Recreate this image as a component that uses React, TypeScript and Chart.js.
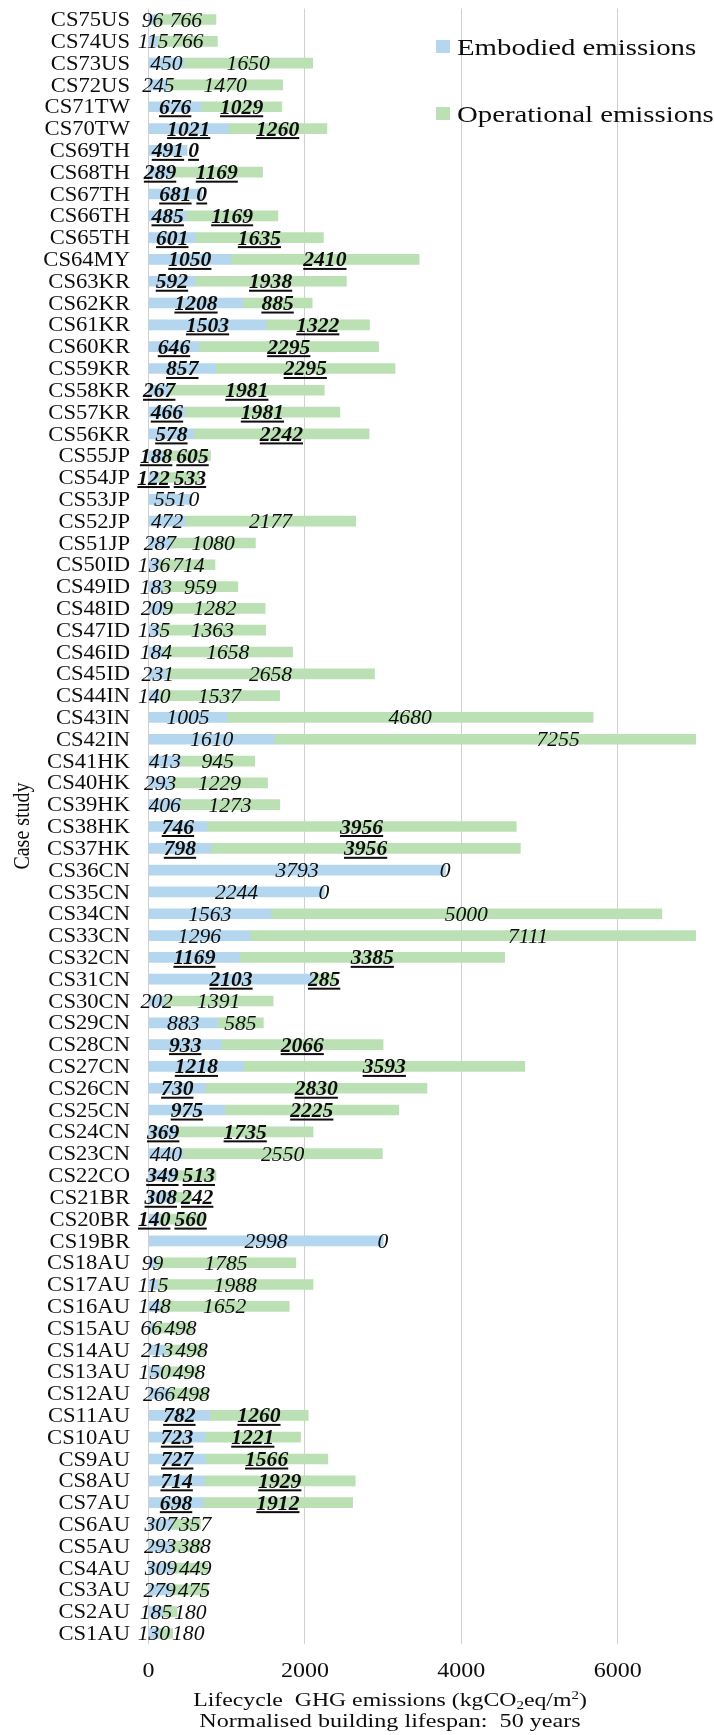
import React, { useEffect, useRef } from 'react';
import { Chart, registerables } from 'chart.js';

Chart.register(...registerables);

// ---------- data (bottom to top: CS1AU ... CS75US) ----------
const categories = [
  'CS1AU', 'CS2AU', 'CS3AU', 'CS4AU', 'CS5AU', 'CS6AU', 'CS7AU', 'CS8AU', 'CS9AU', 'CS10AU',
  'CS11AU', 'CS12AU', 'CS13AU', 'CS14AU', 'CS15AU', 'CS16AU', 'CS17AU', 'CS18AU', 'CS19BR', 'CS20BR',
  'CS21BR', 'CS22CO', 'CS23CN', 'CS24CN', 'CS25CN', 'CS26CN', 'CS27CN', 'CS28CN', 'CS29CN', 'CS30CN',
  'CS31CN', 'CS32CN', 'CS33CN', 'CS34CN', 'CS35CN', 'CS36CN', 'CS37HK', 'CS38HK', 'CS39HK', 'CS40HK',
  'CS41HK', 'CS42IN', 'CS43IN', 'CS44IN', 'CS45ID', 'CS46ID', 'CS47ID', 'CS48ID', 'CS49ID', 'CS50ID',
  'CS51JP', 'CS52JP', 'CS53JP', 'CS54JP', 'CS55JP', 'CS56KR', 'CS57KR', 'CS58KR', 'CS59KR', 'CS60KR',
  'CS61KR', 'CS62KR', 'CS63KR', 'CS64MY', 'CS65TH', 'CS66TH', 'CS67TH', 'CS68TH', 'CS69TH', 'CS70TW',
  'CS71TW', 'CS72US', 'CS73US', 'CS74US', 'CS75US',
];

const embodied = [
  130, 185, 279, 309, 293, 307, 698, 714, 727, 723,
  782, 266, 150, 213, 66, 148, 115, 99, 2998, 140,
  308, 349, 440, 369, 975, 730, 1218, 933, 883, 202,
  2103, 1169, 1296, 1563, 2244, 3793, 798, 746, 406, 293,
  413, 1610, 1005, 140, 231, 184, 135, 209, 183, 136,
  287, 472, 551, 122, 188, 578, 466, 267, 857, 646,
  1503, 1208, 592, 1050, 601, 485, 681, 289, 491, 1021,
  676, 245, 450, 115, 96,
];

const operational = [
  180, 180, 475, 449, 388, 357, 1912, 1929, 1566, 1221,
  1260, 498, 498, 498, 498, 1652, 1988, 1785, 0, 560,
  242, 513, 2550, 1735, 2225, 2830, 3593, 2066, 585, 1391,
  285, 3385, 7111, 5000, 0, 0, 3956, 3956, 1273, 1229,
  945, 7255, 4680, 1537, 2658, 1658, 1363, 1282, 959, 714,
  1080, 2177, 0, 533, 605, 2242, 1981, 1981, 2295, 2295,
  1322, 885, 1938, 2410, 1635, 1169, 0, 1169, 0, 1260,
  1029, 1470, 1650, 766, 766,
];

// case studies whose value labels are bold + underlined
const highlighted = [
  'CS7AU', 'CS8AU', 'CS9AU', 'CS10AU', 'CS11AU', 'CS20BR', 'CS21BR', 'CS22CO',
  'CS24CN', 'CS25CN', 'CS26CN', 'CS27CN', 'CS28CN', 'CS31CN', 'CS32CN', 'CS37HK', 'CS38HK',
  'CS54JP', 'CS55JP', 'CS56KR', 'CS57KR', 'CS58KR', 'CS59KR', 'CS60KR', 'CS61KR', 'CS62KR',
  'CS63KR', 'CS64MY', 'CS65TH', 'CS66TH', 'CS67TH', 'CS68TH', 'CS69TH', 'CS70TW', 'CS71TW',
];

const seriesNames = ['Embodied emissions', 'Operational emissions'];
const xTicks = [0, 2000, 4000, 6000];
const xMax = 7000;
const yTitle = 'Case study';
const xTitleLine2 = 'Normalised building lifespan:  50 years';

// ---------- styles ----------
const COLORS = ['#B4D7EF', '#BAE0B4'];
const SERIF = '"Liberation Serif", "Times New Roman", serif';
const TEXT = '#0d0d0d';
const VALUE_SX = 1.08;
const LABEL_GAP = 2;

function drawStretched(
  ctx: CanvasRenderingContext2D,
  text: string,
  x: number,
  y: number,
  font: string,
  sx: number,
  align: CanvasTextAlign,
): number {
  ctx.save();
  ctx.font = font;
  ctx.translate(x, y);
  ctx.scale(sx, 1);
  ctx.textAlign = align;
  ctx.textBaseline = 'alphabetic';
  ctx.fillStyle = TEXT;
  ctx.fillText(text, 0, 0);
  const w = ctx.measureText(text).width * sx;
  ctx.restore();
  return w;
}

function measure(ctx: CanvasRenderingContext2D, text: string, font: string, sx: number) {
  ctx.save();
  ctx.font = font;
  const w = ctx.measureText(text).width * sx;
  ctx.restore();
  return w;
}

const textPlugin = {
  id: 'textPlugin',
  afterDraw(chart: any) {
    const ctx: CanvasRenderingContext2D = chart.ctx;
    const xs = chart.scales.x;
    const ys = chart.scales.y;

    // category labels
    categories.forEach((c, i) => {
      const y = ys.getPixelForValue(i);
      drawStretched(ctx, c, 130, y + 6.6, `20px ${SERIF}`, 1.13, 'right');
    });

    // value labels (centred in segment, pushed right if they would overlap)
    const m0 = chart.getDatasetMeta(0);
    const m1 = chart.getDatasetMeta(1);
    categories.forEach((c, i) => {
      const bold = highlighted.includes(c);
      const font = `italic ${bold ? 'bold ' : ''}20px ${SERIF}`;
      const e0 = m0.data[i];
      const e1 = m1.data[i];
      const t0 = String(embodied[i]);
      const t1 = String(operational[i]);
      const w0 = measure(ctx, t0, font, VALUE_SX);
      const w1 = measure(ctx, t1, font, VALUE_SX);
      const c0 = (e0.x + e0.base) / 2;
      let c1 = (e1.x + e1.base) / 2;
      const minC1 = c0 + w0 / 2 + (bold ? 4 : LABEL_GAP) + w1 / 2;
      if (c1 < minC1) c1 = minC1;
      const by = e0.y + 7;
      [[t0, c0, w0], [t1, c1, w1]].forEach(([t, cx, w]: any) => {
        drawStretched(ctx, t, cx, by, font, VALUE_SX, 'center');
        if (bold) {
          ctx.save();
          ctx.fillStyle = TEXT;
          ctx.fillRect(cx - w / 2, by + 1.5, w, 2);
          ctx.restore();
        }
      });
    });

    // x tick labels
    xTicks.forEach((v) => {
      const x = xs.getPixelForValue(v);
      drawStretched(ctx, String(v), x, 1677, `20px ${SERIF}`, 1.2, 'center');
    });

    // x title line 1 with subscript / superscript
    const big = `19px ${SERIF}`;
    const small = `12px ${SERIF}`;
    const parts: [string, string, number][] = [
      ['Lifecycle  GHG emissions (kgCO', big, 0],
      ['2', small, 3],
      ['eq/m', big, 0],
      ['2', small, -7],
      [')', big, 0],
    ];
    const sx = 1.25;
    let total = 0;
    parts.forEach(([t, f]) => {
      total += measure(ctx, t, f, sx);
    });
    let px = 390 - total / 2;
    parts.forEach(([t, f, dy]) => {
      px += drawStretched(ctx, t, px, 1706 + dy, f, sx, 'left');
    });
    drawStretched(ctx, xTitleLine2, 390, 1727, big, 1.27, 'center');

    // y title
    ctx.save();
    ctx.translate(29, 826);
    ctx.rotate(-Math.PI / 2);
    ctx.scale(1, 1.15);
    ctx.font = `20px ${SERIF}`;
    ctx.fillStyle = TEXT;
    ctx.textAlign = 'center';
    ctx.textBaseline = 'alphabetic';
    ctx.fillText(yTitle, 0, 0);
    ctx.restore();

    // legend
    const legendY = [40, 107];
    seriesNames.forEach((name, i) => {
      ctx.save();
      ctx.fillStyle = COLORS[i];
      ctx.fillRect(436, legendY[i], 14, 13);
      ctx.restore();
      drawStretched(ctx, name, 457, legendY[i] + 14.5, `24px ${SERIF}`, 1.2, 'left');
    });
  },
};

export default function App() {
  const ref = useRef<HTMLCanvasElement | null>(null);

  useEffect(() => {
    if (!ref.current) return;
    const chart = new Chart(ref.current, {
      type: 'bar',
      data: {
        labels: categories,
        datasets: [
          {
            label: seriesNames[0],
            data: embodied,
            backgroundColor: COLORS[0],
            borderWidth: 0,
            barThickness: 10,
          },
          {
            label: seriesNames[1],
            data: operational,
            backgroundColor: COLORS[1],
            borderWidth: 0,
            barThickness: 10,
          },
        ],
      },
      options: {
        indexAxis: 'y',
        responsive: false,
        animation: false,
        layout: { padding: { left: 148.5, right: 18, top: 8.6, bottom: 90.6 } },
        plugins: {
          legend: { display: false },
          tooltip: { enabled: false },
        },
        scales: {
          x: {
            stacked: true,
            min: 0,
            max: xMax,
            afterBuildTicks: (scale: any) => {
              scale.ticks = xTicks.map((v) => ({ value: v }));
            },
            ticks: { display: false },
            grid: { color: '#d0d0d0', lineWidth: 1, drawTicks: false },
            border: { display: false },
          },
          y: {
            stacked: true,
            reverse: true,
            display: false,
          },
        },
      },
      plugins: [textPlugin],
    });
    return () => chart.destroy();
  }, []);

  return (
    <div style={{ position: 'absolute', left: 0, top: 0 }}>
      <canvas ref={ref} width={714} height={1735} style={{ display: 'block' }} />
    </div>
  );
}
